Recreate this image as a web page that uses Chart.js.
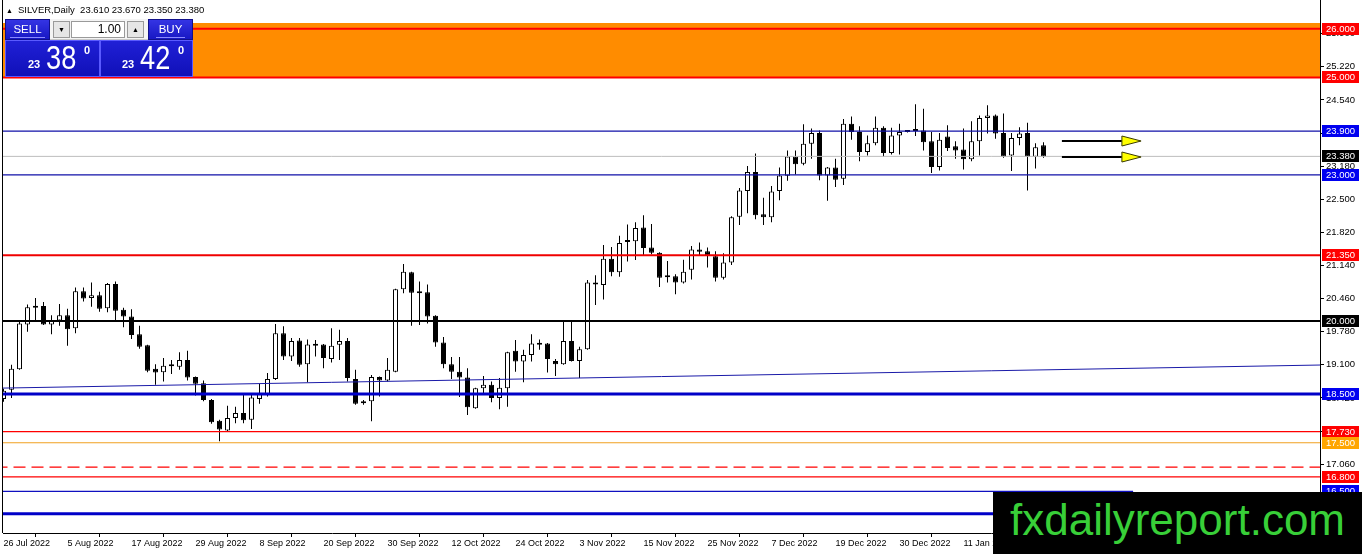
<!DOCTYPE html>
<html><head><meta charset="utf-8">
<script src="https://cdn.jsdelivr.net/npm/chart.js@4.4.0/dist/chart.umd.min.js"></script>
<style>
html,body{margin:0;padding:0;background:#fff;overflow:hidden}
#wrap{position:relative;width:1362px;height:554px;font-family:"Liberation Sans",Arial,sans-serif}
canvas{display:block;position:absolute;left:0;top:0}
.abs{position:absolute;white-space:nowrap}
.title{font-size:9.5px;color:#000;top:4px;line-height:12px}
.btn{background:linear-gradient(#3434e4,#1818c4);color:#fff;font-size:11.5px;text-align:center;box-sizing:border-box;border:1px solid #10108a}
.btn span{display:inline-block;border-bottom:1px solid #8a8aff;line-height:16px;padding:0 3px;margin-top:1px}
.box{background:#e6e6e6;border:1px solid #9a9a9a;box-sizing:border-box;font-size:7px;text-align:center;line-height:15px;color:#000}
.inp{background:#fff;border:1px solid #9a9a9a;box-sizing:border-box;font-size:12px;text-align:right;line-height:15px;padding-right:3px;color:#000}
.big{background:linear-gradient(#2020d6,#1010b8);box-sizing:border-box;border:1px solid #5a5aff;color:#fff}
.sm{font-size:11px;font-weight:bold}
.lg{font-size:34px;transform:scaleX(0.8);transform-origin:left top;line-height:34px}
.sup{font-size:11px;font-weight:bold}
#wm{left:993px;top:492px;width:369px;height:62px;background:#000;overflow:hidden}
#wm span{position:absolute;left:17px;top:-3px;font-size:44px;line-height:62px;color:#38cf38;font-family:"Liberation Sans",Arial,sans-serif}
</style></head>
<body><div id="wrap">
<canvas id="c" width="1362" height="554"></canvas>
<div class="abs title" style="left:6px;font-size:7px;top:5px">▲</div>
<div class="abs title" style="left:18px">SILVER,Daily&nbsp; 23.610 23.670 23.350 23.380</div>

<div class="abs" style="left:50px;top:19px;width:98px;height:21px;background:#f4f4f4;border-bottom:1px solid #c8c8c8;box-sizing:border-box"></div>
<div class="abs btn" style="left:5px;top:19px;width:45px;height:21px"><span>SELL</span></div>
<div class="abs box" style="left:53px;top:21px;width:17px;height:17px">▼</div>
<div class="abs inp" style="left:71px;top:21px;width:54px;height:17px">1.00</div>
<div class="abs box" style="left:127px;top:21px;width:17px;height:17px">▲</div>
<div class="abs btn" style="left:148px;top:19px;width:45px;height:21px"><span>BUY</span></div>

<div class="abs big" style="left:5px;top:40px;width:95px;height:37px"></div>
<div class="abs big" style="left:100px;top:40px;width:93px;height:37px"></div>
<div class="abs sm" style="left:28px;top:58px;color:#fff">23</div>
<div class="abs lg" style="left:46px;top:40px;color:#fff">38</div>
<div class="abs sup" style="left:84px;top:44px;color:#fff">0</div>
<div class="abs sm" style="left:122px;top:58px;color:#fff">23</div>
<div class="abs lg" style="left:140px;top:40px;color:#fff">42</div>
<div class="abs sup" style="left:178px;top:44px;color:#fff">0</div>

<div id="wm" class="abs"><span>fxdailyreport.com</span></div>
</div>
<script>
// ---- data ----
const dateLabels = ['26 Jul 2022','5 Aug 2022','17 Aug 2022','29 Aug 2022','8 Sep 2022','20 Sep 2022','30 Sep 2022','12 Oct 2022','24 Oct 2022','3 Nov 2022','15 Nov 2022','25 Nov 2022','7 Dec 2022','19 Dec 2022','30 Dec 2022','11 Jan 2023','23 Jan 2023'];
const dateTickBars = [0,8,16,24,32,40,48,56,64,72,80,88,96,104,112,120,128];

const opens = [
18.40,18.59,19.01,19.93,20.31,20.31,19.93,20.01,20.12,19.85,
20.61,20.47,20.53,20.26,20.76,20.23,20.09,19.73,19.50,19.02,
18.95,19.07,19.06,19.20,18.85,18.72,18.38,17.95,17.75,18.01,
18.11,17.97,18.40,18.50,18.81,19.75,19.27,19.60,19.11,19.51,
19.52,19.22,19.51,19.59,18.81,18.31,18.35,18.85,18.78,18.96,
20.65,21.00,20.59,20.59,20.11,19.56,19.11,18.96,18.84,18.21,
18.62,18.69,18.42,18.62,19.39,19.17,19.30,19.54,19.54,19.18,
19.11,19.59,19.18,19.42,20.75,20.74,21.28,21.00,21.62,21.64,
21.92,21.51,21.40,20.91,20.92,20.79,21.05,21.47,21.43,21.33,
20.89,21.20,22.14,22.67,23.06,22.19,22.13,22.67,22.98,23.38,
23.23,23.64,23.86,22.99,23.15,22.92,24.05,23.88,23.47,23.65,
23.97,23.45,23.81,23.88,23.90,23.91,23.69,23.16,23.79,23.59,
23.52,23.32,23.69,24.17,24.22,23.86,23.40,23.76,23.86,23.37,
23.61];
const highs = [
18.61,19.10,19.99,20.34,20.47,20.39,20.12,20.35,20.25,20.69,
20.69,20.79,20.60,20.78,20.81,20.27,20.24,19.90,19.51,19.11,
19.24,19.20,19.36,19.39,18.86,18.78,18.40,17.97,18.26,18.24,
18.50,18.50,18.71,18.93,19.94,19.89,19.65,19.65,19.62,19.61,
19.53,19.85,19.82,19.65,19.00,18.38,18.89,18.86,19.24,20.66,
21.17,21.01,20.81,20.75,20.12,19.67,19.26,19.26,19.03,18.63,
18.87,18.76,18.83,19.37,19.61,19.41,19.73,19.62,19.55,19.22,
20.01,20.01,19.47,20.84,20.94,21.56,21.52,21.75,21.98,22.03,
22.17,21.99,21.41,21.23,20.96,21.26,21.54,21.61,21.51,21.43,
21.39,22.15,22.73,23.18,23.44,22.53,22.77,23.15,23.50,23.50,
24.04,23.95,23.91,23.16,23.33,24.15,24.20,24.00,23.81,24.20,
24.00,23.97,24.05,23.89,24.45,24.36,23.88,23.86,24.02,23.69,
23.95,24.10,24.22,24.43,24.24,24.26,23.86,23.98,24.07,23.65,
23.67];
const lows = [
18.34,18.42,19.00,19.78,20.02,19.92,19.73,19.90,19.49,19.75,
20.40,20.29,20.19,20.18,20.01,19.87,19.63,19.43,18.95,18.69,
18.76,18.91,19.00,18.78,18.47,18.35,17.89,17.53,17.74,17.90,
17.90,17.78,18.30,18.45,18.79,19.20,19.18,19.06,18.74,19.27,
19.03,19.15,19.20,18.76,18.28,18.28,17.94,18.45,18.76,18.95,
20.57,19.90,19.92,19.95,19.47,19.03,18.81,18.44,18.07,18.20,
18.52,18.33,18.19,18.24,18.96,18.74,19.17,19.41,18.94,18.87,
19.10,19.17,18.83,19.41,20.33,20.44,20.92,20.91,21.22,21.25,
21.35,21.37,20.70,20.79,20.55,20.77,20.85,21.34,21.10,20.81,
20.85,21.15,21.97,22.21,22.09,21.97,22.03,22.48,22.88,23.01,
23.20,23.33,22.89,22.47,22.75,22.79,23.72,23.28,23.40,23.61,
23.37,23.42,23.42,23.87,23.80,23.50,23.04,23.09,23.49,23.33,
23.11,23.28,23.40,23.85,23.74,23.35,23.08,23.61,22.68,23.13,
23.35];
const closes = [
18.57,19.02,19.95,20.28,20.27,19.93,20.01,20.12,19.83,20.61,
20.46,20.53,20.25,20.76,20.21,20.09,19.71,19.47,18.98,18.94,
19.08,19.08,19.20,18.84,18.71,18.38,17.92,17.77,18.01,18.11,
17.96,18.43,18.50,18.81,19.75,19.27,19.59,19.10,19.52,19.49,
19.24,19.49,19.59,18.83,18.30,18.35,18.85,18.78,19.00,20.65,
21.01,20.58,20.57,20.09,19.56,19.11,18.96,18.84,18.23,18.62,
18.69,18.42,18.63,19.36,19.17,19.30,19.54,19.51,19.22,19.11,
19.59,19.18,19.42,20.79,20.76,21.28,21.00,21.60,21.66,21.91,
21.50,21.40,20.89,20.90,20.79,21.01,21.47,21.42,21.35,20.89,
21.20,22.13,22.68,23.06,22.17,22.13,22.66,22.99,23.38,23.22,
23.64,23.86,22.99,23.15,22.90,24.05,23.88,23.47,23.65,23.97,
23.45,23.81,23.88,23.89,23.91,23.67,23.16,23.72,23.55,23.50,
23.32,23.69,24.17,24.22,23.85,23.37,23.76,23.85,23.37,23.57,
23.38];

const yTickValues = [16.38,17.06,17.74,18.42,19.10,19.78,20.46,21.14,21.82,22.50,23.18,23.86,24.54,25.22,25.90];
const levelPrices = [26.00,25.00,23.90,23.38,23.00,21.35,20.00,18.50,17.73,17.50,17.00,16.80,16.50,16.04];
const levelEndBars = [170,170,170,170,170,170,170,170,170,170,170,170,141.2,170];
const bandPrices = [26.12,25.00];
const maBars = [-1,166];
const maPrices = [18.62,19.10];
const tagPrices = [26.00,25.00,23.90,23.38,23.00,21.35,20.00,18.50,17.73,17.50,16.80,16.50];
const arrowPrices = [23.70,23.37];
const arrowBars = [132.3,139.8,142.2];

// ---- styles (kept apart from data) ----
const levelStyles = [
 {c:'#ff0000',w:2},{c:'#ff0000',w:2},{c:'#1010a8',w:1.2},{c:'#bdbdbd',w:1},{c:'#1010a8',w:1.2},
 {c:'#f00000',w:2},{c:'#000000',w:2},{c:'#0000c8',w:3},{c:'#ff0000',w:1.2},{c:'#f0a020',w:1.2},
 {c:'#ff0000',w:1.2,d:[12,6]},{c:'#ff0000',w:1.2},{c:'#1010c0',w:1.2},{c:'#0000c8',w:3}];
const tagColors = ['#ff0000','#ff0000','#0000f0','#000000','#0000f0','#ff0000','#000000','#0000f0','#ff0000','#ffa500','#ff0000','#0000f0'];

const X_MIN = -0.0625, X_MAX = 164.5625, Y_MIN = 15.647, Y_MAX = 26.591;

const bodies = opens.map((o,i)=>({x:i,y:[o,closes[i]]}));
const wicks = lows.map((l,i)=>({x:i,y:[l,highs[i]]}));

const datasets = [];
levelPrices.forEach((p,i)=>{
  const s = levelStyles[i];
  datasets.push({type:'line',data:[{x:-1,y:p},{x:levelEndBars[i],y:p}],borderColor:s.c,borderWidth:s.w,borderDash:s.d||[],pointRadius:0,fill:false,order:1,clip:0,tension:0});
});
datasets.push({type:'line',data:[{x:maBars[0],y:maPrices[0]},{x:maBars[1],y:maPrices[1]}],borderColor:'#1a1aa8',borderWidth:1,pointRadius:0,fill:false,order:1,clip:0});
datasets.push({type:'bar',data:bodies,barThickness:5,grouped:false,minBarLength:2,inflateAmount:0,
  backgroundColor:(ctx)=>{const i=ctx.dataIndex;return closes[i]>=opens[i]?'#ffffff':'#000000';},
  borderColor:'#000',borderWidth:1,borderSkipped:false,order:2,clip:0});
datasets.push({type:'bar',data:wicks,barThickness:1,grouped:false,inflateAmount:0,backgroundColor:'#000',borderWidth:0,order:3,clip:0});
datasets.push({type:'line',data:[{x:-1,y:bandPrices[0]},{x:170,y:bandPrices[0]}],borderWidth:0,borderColor:'rgba(0,0,0,0)',backgroundColor:'#ff8c00',fill:{value:bandPrices[1]},pointRadius:0,order:5,clip:0});

const overlay = {
  id:'overlay',
  afterDraw(chart){
    const ctx = chart.ctx, a = chart.chartArea, xs = chart.scales.x, ys = chart.scales.y;
    ctx.save();
    ctx.fillStyle='#000';
    ctx.fillRect(a.left-1, 0, 1, a.bottom);
    arrowPrices.forEach(p=>{
      const y = Math.round(ys.getPixelForValue(p));
      const x0 = xs.getPixelForValue(arrowBars[0]), x1 = xs.getPixelForValue(arrowBars[1]), x2 = xs.getPixelForValue(arrowBars[2]);
      ctx.fillStyle='#000';
      ctx.fillRect(x0, y-1, x1-x0, 2);
      ctx.beginPath();
      ctx.moveTo(x1, y-5); ctx.lineTo(x2, y); ctx.lineTo(x1, y+5); ctx.closePath();
      ctx.fillStyle='#ffff00'; ctx.fill();
      ctx.strokeStyle='#3a3a00'; ctx.lineWidth=1; ctx.stroke();
    });
    ctx.font = '9.5px "Liberation Sans", Arial, sans-serif';
    ctx.textBaseline='middle'; ctx.textAlign='left';
    tagPrices.forEach((p,i)=>{
      const y = Math.round(ys.getPixelForValue(p));
      ctx.fillStyle = tagColors[i];
      ctx.fillRect(a.right+2, y-6, 37, 12);
      ctx.fillStyle = '#fff';
      ctx.fillText(p.toFixed(3), a.right+6, y+0.5);
    });
    ctx.restore();
  }
};

new Chart(document.getElementById('c'), {
  type:'bar',
  data:{datasets},
  options:{
    responsive:false, animation:false, events:[],
    devicePixelRatio:1,
    layout:{padding:{left:3,top:0,right:0,bottom:0}},
    plugins:{legend:{display:false},tooltip:{enabled:false},title:{display:false}},
    scales:{
      x:{type:'linear',min:X_MIN,max:X_MAX,offset:false,position:'bottom',
        grid:{drawOnChartArea:false,drawTicks:true,tickLength:4,color:'#000'},
        border:{display:true,color:'#000',width:1},
        afterBuildTicks:(s)=>{s.ticks = dateTickBars.map(v=>({value:v}));},
        afterFit:(s)=>{s.height=21;s.paddingLeft=0;s.paddingRight=0;},
        ticks:{autoSkip:false,maxRotation:0,minRotation:0,align:'start',padding:1,color:'#000',
          font:{family:'"Liberation Sans", Arial, sans-serif',size:9},
          callback:(v,i)=>dateLabels[i]}
      },
      y:{type:'linear',position:'right',min:Y_MIN,max:Y_MAX,
        grid:{drawOnChartArea:false,drawTicks:true,tickLength:4,color:'#000'},
        border:{display:true,color:'#000',width:1},
        afterBuildTicks:(s)=>{s.ticks = yTickValues.map(v=>({value:v}));},
        afterFit:(s)=>{s.width=42;s.paddingTop=0;s.paddingBottom=0;},
        ticks:{padding:2,color:'#000',font:{family:'"Liberation Sans", Arial, sans-serif',size:9.5},
          callback:(v)=>Number(v).toFixed(3)}
      }
    }
  },
  plugins:[overlay]
});
</script>
</body></html>
